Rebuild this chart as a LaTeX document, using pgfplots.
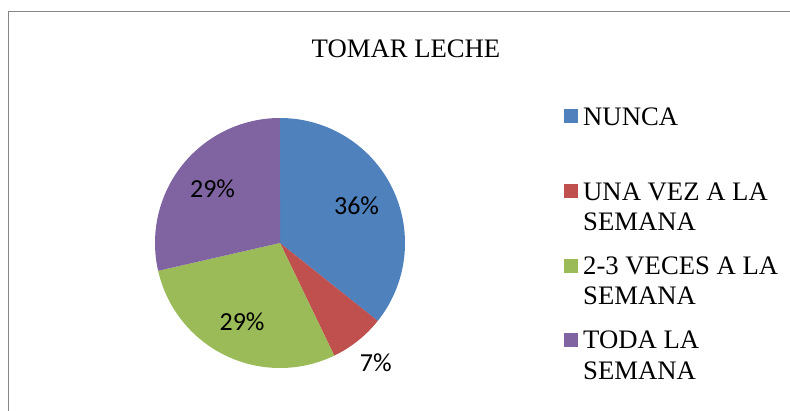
\documentclass[border=0pt]{standalone}
\usepackage{pgfplots}
\pgfplotsset{compat=1.18}
\usepackage{pgfplotstable}
\usepgfplotslibrary{polar}
\usepackage{fontspec}
\setmainfont{Liberation Serif}
\newfontfamily\calibri{Carlito}

\definecolor{nunca}{RGB}{79,129,189}
\definecolor{unavez}{RGB}{192,80,77}
\definecolor{variasveces}{RGB}{155,187,89}
\definecolor{toda}{RGB}{128,100,162}
\definecolor{marco}{RGB}{134,134,134}

% share of answers, in percent
\pgfplotstableread{
share
35.714
7.143
28.571
28.571
}\leche

\begin{document}
\begin{tikzpicture}
\pgfplotstablegetelem{0}{share}\of\leche \pgfmathsetmacro\sA{\pgfplotsretval}
\pgfplotstablegetelem{1}{share}\of\leche \pgfmathsetmacro\sB{\pgfplotsretval}
\pgfplotstablegetelem{2}{share}\of\leche \pgfmathsetmacro\sC{\pgfplotsretval}
\pgfplotstablegetelem{3}{share}\of\leche \pgfmathsetmacro\sD{\pgfplotsretval}
% slices run clockwise from 12 o'clock
\pgfmathsetmacro\tA{90}
\pgfmathsetmacro\tB{\tA-3.6*\sA}
\pgfmathsetmacro\tC{\tB-3.6*\sB}
\pgfmathsetmacro\tD{\tC-3.6*\sC}
\pgfmathsetmacro\tE{\tD-3.6*\sD}
\pgfmathsetmacro\mA{(\tA+\tB)/2}
\pgfmathsetmacro\mB{(\tB+\tC)/2}
\pgfmathsetmacro\mC{(\tC+\tD)/2}
\pgfmathsetmacro\mD{(\tD+\tE)/2}
\begin{scope}[x=1bp,y=1bp]
  \draw[marco, line width=1.5bp] (8.5,-10) -- (8.5,399.5) -- (800,399.5);
  \node[anchor=base, inner sep=0pt, font=\fontsize{26.8}{30.5}\selectfont] at (406,353.7) {TOMAR LECHE};
  % legend
  \fill[nunca] (564,288) rectangle (578,302);
  \fill[unavez] (564,213) rectangle (578,227);
  \fill[variasveces] (564,138) rectangle (578,152);
  \fill[toda] (564,64) rectangle (578,78);
  \begin{scope}[every node/.style={anchor=base west, inner sep=0pt, font=\fontsize{26.8}{30.5}\selectfont}]
    \node at (583,286) {NUNCA};
    \node at (583,211) {UNA VEZ A LA};
    \node at (583,181) {SEMANA};
    \node at (583,137) {2-3 VECES A LA};
    \node at (583,106.5) {SEMANA};
    \node at (583,62.5) {TODA LA};
    \node at (583,32) {SEMANA};
  \end{scope}
\end{scope}
\begin{polaraxis}[
    at={(280bp,168bp)}, anchor=origin,
    hide axis, scale only axis,
    width=250bp, height=250bp,
    ymin=0, ymax=1, clip=false,
  ]
  \addplot[draw=none, fill=nunca, domain=\tB:\tA, samples=90] {1} -- (axis cs:0,0) -- cycle;
  \addplot[draw=none, fill=unavez, domain=\tC:\tB, samples=30] {1} -- (axis cs:0,0) -- cycle;
  \addplot[draw=none, fill=variasveces, domain=\tD:\tC, samples=80] {1} -- (axis cs:0,0) -- cycle;
  \addplot[draw=none, fill=toda, domain=\tE:\tD, samples=80] {1} -- (axis cs:0,0) -- cycle;
  \begin{scope}[every node/.style={font=\calibri\fontsize{26.1}{29.6}\selectfont}]
    \node at (axis cs:\mA,0.68) {36\%};
    \node at (axis cs:\mB,1.23) {7\%};
    \node at (axis cs:\mC,0.70) {29\%};
    \node at (axis cs:\mD,0.69) {29\%};
  \end{scope}
\end{polaraxis}
\pgfresetboundingbox
\path[use as bounding box] (0bp,0bp) rectangle (790bp,411bp);
\end{tikzpicture}
\end{document}
